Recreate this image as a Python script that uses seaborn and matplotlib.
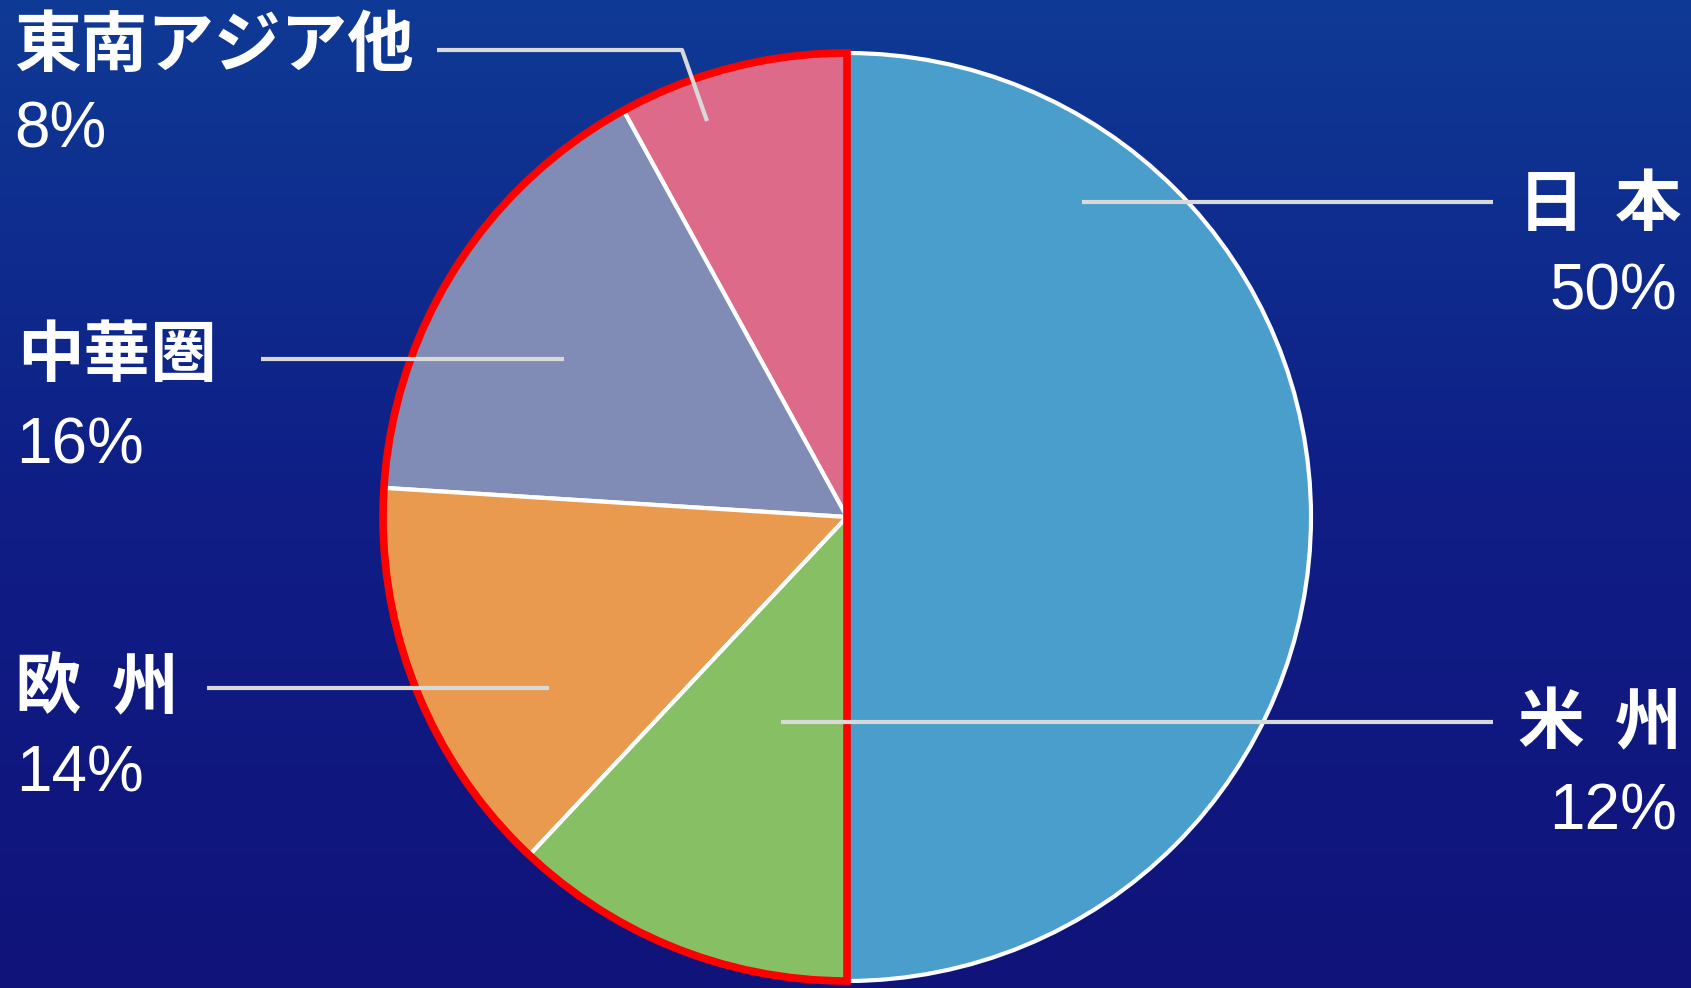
import numpy as np
import matplotlib
matplotlib.use("Agg")
import matplotlib.pyplot as plt
import seaborn as sns
from matplotlib.patches import Wedge
from matplotlib.colors import LinearSegmentedColormap

# ---- data ----
regions = ["東南アジア他", "中華圏", "欧州", "米州", "日本"]
shares = [8, 16, 14, 12, 50]
label_names = ["東南アジア他", "中華圏", "欧  州", "米  州", "日  本"]
pct_labels = ["8%", "16%", "14%", "12%", "50%"]
slice_colors = ["#DE6A8A", "#808CB6", "#E99A4E", "#87C064", "#4A9ECB"]

sns.set_theme(style="white")
plt.rcParams['font.family'] = ['Noto Sans CJK JP', 'DejaVu Sans']

W, H = 1691, 988
fig = plt.figure(figsize=(W / 100, H / 100), dpi=100)

# background gradient
bg = fig.add_axes([0, 0, 1, 1])
cmap = LinearSegmentedColormap.from_list("bg", ["#0E3A95", "#0F1E86", "#0F137A"])
grad = np.linspace(0, 1, 256).reshape(-1, 1)
bg.imshow(grad, cmap=cmap, aspect="auto", extent=[0, 1, 0, 1], origin="upper")
bg.axis("off")

ax = fig.add_axes([0, 0, 1, 1])
ax.patch.set_alpha(0)

cx, cy_px, r = 847, 517, 464
cy = H - cy_px

palette = sns.color_palette(slice_colors)
ax.pie(shares, colors=palette, startangle=90, counterclock=True,
       center=(cx, cy), radius=r, frame=True,
       wedgeprops=dict(edgecolor="white", linewidth=3.0))

# red outline around non-Japan half
ax.add_patch(Wedge((cx, cy), r, 90, 270, fill=False, edgecolor="#FF0000",
                   linewidth=5.5, zorder=5, joinstyle="miter"))

# leader lines (pixel coords, y from top)
leaders = [
    [(437, 50), (682, 50), (707, 121)],
    [(261, 359), (564, 359)],
    [(207, 688), (549, 688)],
    [(781, 722), (1493, 722)],
    [(1082, 202), (1493, 202)],
]
for pts in leaders:
    xs = [p[0] for p in pts]
    ys = [H - p[1] for p in pts]
    ax.plot(xs, ys, color="#D9D9D9", linewidth=3.0, zorder=6, solid_capstyle="butt")

# labels
name_pos = [(14, 47, "left"), (17, 356, "left"), (15, 688, "left"),
            (1681, 724, "right"), (1681, 206, "right")]
pct_pos = [(14, 131, "left"), (16, 446, "left"), (16, 775, "left"),
           (1677, 812, "right"), (1677, 292, "right")]
for name, (x, y, ha) in zip(label_names, name_pos):
    ax.text(x, H - y, name, ha=ha, va="center", color="white", fontsize=48,
            fontweight="bold", family=['Noto Sans CJK JP', 'DejaVu Sans'], zorder=7)
for p, (x, y, ha) in zip(pct_labels, pct_pos):
    ax.text(x, H - y, p, ha=ha, va="center", color="white", fontsize=46,
            family=['Liberation Sans', 'DejaVu Sans'], zorder=7)

ax.set_xlim(0, W)
ax.set_ylim(0, H)
ax.set_aspect("auto")
ax.axis("off")

fig.savefig("out.png", dpi=100)
